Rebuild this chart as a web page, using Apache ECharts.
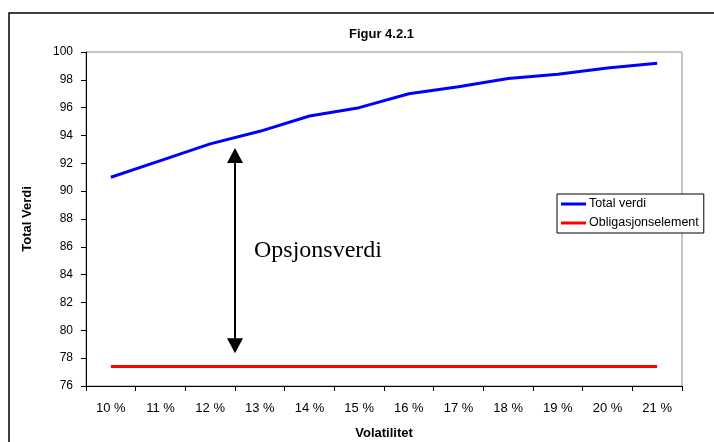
<!DOCTYPE html>
<html>
<head>
<meta charset="utf-8">
<script src="https://cdn.jsdelivr.net/npm/echarts@6/dist/echarts.min.js"></script>
<style>
html, body { margin: 0; padding: 0; background: #fff; }
#main { width: 714px; height: 442px; }
</style>
</head>
<body>
<div id="main"></div>
<script>
// data
const categories = ['10 %', '11 %', '12 %', '13 %', '14 %', '15 %', '16 %', '17 %', '18 %', '19 %', '20 %', '21 %'];
const totalVerdi = [91.0, 92.2, 93.4, 94.3, 95.4, 96.0, 97.0, 97.5, 98.1, 98.4, 98.85, 99.2];
const obligasjonselement = [77.4, 77.4, 77.4, 77.4, 77.4, 77.4, 77.4, 77.4, 77.4, 77.4, 77.4, 77.4];
const yMin = 76, yMax = 100, yStep = 2;

// annotation: double arrow between 12 % and 13 %
const arrowBetween = [2, 3];
const arrowTop = 93.1;
const arrowBottom = 78.35;
const arrowLabelValue = 85.7;
const arrowLabel = 'Opsjonsverdi';

const font = 'Arial, "Liberation Sans", sans-serif';

let myChart = echarts.init(document.getElementById('main'));
myChart.setOption({
    animation: false,
    backgroundColor: '#fff',
    title: {
        text: 'Figur 4.2.1',
        left: 349,
        top: 28,
        padding: [0, 0, 0, 0],
        textStyle: { fontFamily: font, fontSize: 13, fontWeight: 'bold', color: '#000' }
    },
    legend: {
        orient: 'vertical',
        left: 557,
        top: 194,
        icon: 'rect',
        itemWidth: 25,
        itemHeight: 3,
        itemGap: 5,
        padding: [3, 5, 3, 4],
        borderColor: '#000',
        borderWidth: 1,
        backgroundColor: '#fff',
        textStyle: { fontFamily: font, fontSize: 12.5, color: '#000', lineHeight: 14, padding: [0, 0, 0, -2] },
        data: ['Total verdi', 'Obligasjonselement']
    },
    grid: {
        left: 86,
        right: 32,
        top: 52,
        bottom: 56,
        outerBoundsMode: 'none',
        containLabel: false,
        show: true,
        borderColor: '#8c8c8c',
        borderWidth: 1
    },
    xAxis: {
        type: 'category',
        data: categories,
        name: 'Volatilitet',
        nameLocation: 'middle',
        nameGap: 41,
        nameTextStyle: { fontFamily: font, fontSize: 13, fontWeight: 'bold', color: '#000' },
        axisLine: { lineStyle: { color: '#000', width: 1 } },
        axisTick: { show: true, length: 5, lineStyle: { color: '#000' } },
        axisLabel: { fontFamily: font, fontSize: 13, color: '#000', margin: 16 },
        splitLine: { show: false }
    },
    yAxis: {
        type: 'value',
        min: yMin,
        max: yMax,
        interval: yStep,
        name: 'Total Verdi',
        nameLocation: 'middle',
        nameGap: 52,
        nameTextStyle: { fontFamily: font, fontSize: 13, fontWeight: 'bold', color: '#000' },
        axisLine: { show: true, lineStyle: { color: '#000', width: 1 } },
        axisTick: { show: true, length: 5, lineStyle: { color: '#000' } },
        axisLabel: { fontFamily: font, fontSize: 12, color: '#000', margin: 13 },
        splitLine: { show: false }
    },
    series: [{
        name: 'Total verdi',
        type: 'line',
        data: totalVerdi,
        symbol: 'none',
        color: '#0000ff',
        lineStyle: { color: '#0000ff', width: 3 }
    }, {
        name: 'Obligasjonselement',
        type: 'line',
        data: obligasjonselement,
        symbol: 'none',
        color: '#ff0000',
        lineStyle: { color: '#ff0000', width: 3 }
    }]
});

// annotation positions come from the chart's own scales
const x0 = myChart.convertToPixel({ xAxisIndex: 0 }, arrowBetween[0]);
const x1 = myChart.convertToPixel({ xAxisIndex: 0 }, arrowBetween[1]);
const ax = (x0 + x1) / 2;
const yTop = myChart.convertToPixel({ yAxisIndex: 0 }, arrowTop);
const yBot = myChart.convertToPixel({ yAxisIndex: 0 }, arrowBottom);
const yLab = myChart.convertToPixel({ yAxisIndex: 0 }, arrowLabelValue);
const headH = 15, headW = 8;

myChart.setOption({
    graphic: [{
        type: 'rect',
        shape: { x: 9, y: 13, width: 760, height: 480 },
        style: { fill: 'none', stroke: '#000', lineWidth: 1.5 },
        z: 0
    }, {
        type: 'line',
        shape: { x1: ax, y1: yTop + headH - 1, x2: ax, y2: yBot - headH + 1 },
        style: { stroke: '#000', lineWidth: 2 },
        z: 50
    }, {
        type: 'polygon',
        shape: { points: [[ax, yTop], [ax - headW, yTop + headH], [ax + headW, yTop + headH]] },
        style: { fill: '#000' },
        z: 50
    }, {
        type: 'polygon',
        shape: { points: [[ax, yBot], [ax - headW, yBot - headH], [ax + headW, yBot - headH]] },
        style: { fill: '#000' },
        z: 50
    }, {
        type: 'text',
        x: ax + 19,
        y: yLab,
        style: {
            text: arrowLabel,
            font: '24px "Liberation Serif", "Times New Roman", serif',
            fill: '#000',
            verticalAlign: 'middle'
        },
        z: 50
    }]
});
</script>
</body>
</html>
